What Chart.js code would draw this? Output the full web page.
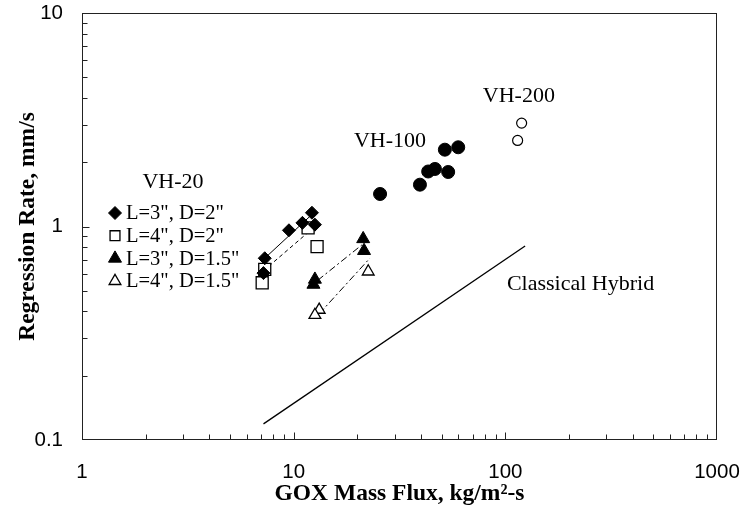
<!DOCTYPE html>
<html>
<head>
<meta charset="utf-8">
<script src="https://cdn.jsdelivr.net/npm/chart.js@4.4.1/dist/chart.umd.min.js"></script>
<style>
  html, body { margin: 0; padding: 0; background: #fff; }
  canvas { display: block; }
</style>
</head>
<body>
<canvas id="c" width="741" height="522"></canvas>
<script>
// ---- VH-20 motor tests ----
// L=3", D=2"
const fluxL3D2 = [7.3, 7.2, 9.5, 11.0, 12.2, 12.6];
const rateL3D2 = [0.71, 0.605, 0.96, 1.04, 1.16, 1.02];
// L=4", D=2"
const fluxL4D2 = [7.3, 7.1, 11.7, 12.9];
const rateL4D2 = [0.63, 0.545, 0.985, 0.805];
// L=3", D=1.5"
const fluxL3D15 = [21.3, 21.5, 12.6, 12.4];
const rateL3D15 = [0.875, 0.77, 0.565, 0.535];
// L=4", D=1.5"
const fluxL4D15 = [22.5, 13.2, 12.6];
const rateL4D15 = [0.615, 0.407, 0.385];

// ---- VH-100 and VH-200 motors ----
const fluxVH100 = [25.6, 39.5, 43.2, 46.5, 53.7, 51.8, 59.9];
const rateVH100 = [1.42, 1.57, 1.81, 1.86, 1.80, 2.29, 2.35];
const fluxVH200 = [119.4, 114.3];
const rateVH200 = [3.05, 2.53];

// ---- trend lines through each VH-20 configuration (end points) ----
const fitFluxL3D2 = [7.3, 12.1];
const fitRateL3D2 = [0.71, 1.13];
const fitFluxL4D2 = [7.2, 12.6];
const fitRateL4D2 = [0.62, 1.0];
const fitFluxL3D15 = [13.0, 21.0];
const fitRateL3D15 = [0.56, 0.82];
const fitFluxL4D15 = [13.2, 22.9];
const fitRateL4D15 = [0.39, 0.71];

// ---- classical hybrid regression law ----
const classicalFlux = [7.2, 124];
const classicalRate = [0.119, 0.81];

// ---- axes ----
const xTickValues = [1, 10, 100, 1000];
const yTickValues = [0.1, 1, 10];
const seriesLabels = ['L=3", D=2"', 'L=4", D=2"', 'L=3", D=1.5"', 'L=4", D=1.5"'];
const groupLabels = ['VH-20', 'VH-100', 'VH-200', 'Classical Hybrid'];

const pts = (xs, ys) => xs.map((v, i) => ({ x: v, y: ys[i] }));

// marker looks for the four VH-20 series (shared with the in-plot key)
const seriesMarkers = [
  { pointStyle: 'rectRot', radius: 6.5, fill: '#000', border: 1 },
  { pointStyle: 'rect', radius: 8.5, fill: '#fff', border: 1.3 },
  { pointStyle: 'triangle', radius: 7.5, fill: '#000', border: 1 },
  { pointStyle: 'triangle', radius: 6.8, fill: '#fff', border: 1.3 }
];
const seriesData = [
  pts(fluxL3D2, rateL3D2), pts(fluxL4D2, rateL4D2),
  pts(fluxL3D15, rateL3D15), pts(fluxL4D15, rateL4D15)
];

const markerSets = seriesData.map((d, i) => ({
  label: seriesLabels[i],
  data: d,
  showLine: false,
  pointStyle: seriesMarkers[i].pointStyle,
  pointRadius: seriesMarkers[i].radius,
  pointBackgroundColor: seriesMarkers[i].fill,
  pointBorderColor: '#000',
  pointBorderWidth: seriesMarkers[i].border,
  order: [2, 4, 1, 3][i]
}));

const lineSet = (xs, ys, dash, width) => ({
  data: pts(xs, ys),
  showLine: true,
  borderColor: '#000',
  borderWidth: width,
  borderDash: dash,
  pointRadius: 0,
  order: 10
});

const datasets = [
  lineSet(classicalFlux, classicalRate, [], 1.3),
  lineSet(fitFluxL3D2, fitRateL3D2, [], 1),
  lineSet(fitFluxL4D2, fitRateL4D2, [4, 3], 1),
  lineSet(fitFluxL3D15, fitRateL3D15, [7, 3, 2, 3], 1),
  lineSet(fitFluxL4D15, fitRateL4D15, [7, 3, 2, 3], 1),
  ...markerSets,
  {
    label: 'VH-100', data: pts(fluxVH100, rateVH100), showLine: false,
    pointStyle: 'circle', pointRadius: 6.5, pointBackgroundColor: '#000',
    pointBorderColor: '#000', pointBorderWidth: 1, order: 5
  },
  {
    label: 'VH-200', data: pts(fluxVH200, rateVH200), showLine: false,
    pointStyle: 'circle', pointRadius: 5, pointBackgroundColor: '#fff',
    pointBorderColor: '#000', pointBorderWidth: 1.2, order: 5
  }
];

// plot frame plus inward log tick marks on the bottom and left edges
const frameAndTicks = {
  id: 'frameAndTicks',
  beforeDatasetsDraw(chart) {
    const { ctx, chartArea: a, scales: { x, y } } = chart;
    ctx.save();
    ctx.strokeStyle = '#222';
    ctx.lineWidth = 1;
    const L = Math.round(a.left) + 0.5, T = Math.round(a.top) + 0.5;
    const R = Math.round(a.right) - 0.5, B = Math.round(a.bottom) - 0.5;
    ctx.strokeRect(L, T, R - L, B - T);
    ctx.beginPath();
    for (let d = 0; d < 3; d++) {
      for (let m = 1; m <= 9; m++) {
        if (d === 0 && m === 1) continue;
        const px = Math.round(x.getPixelForValue(m * Math.pow(10, d))) + 0.5;
        const len = m === 1 ? 7 : 5;
        ctx.moveTo(px, B); ctx.lineTo(px, B - len);
      }
    }
    for (let d = -1; d < 1; d++) {
      for (let m = 1; m <= 9; m++) {
        if (d === -1 && m === 1) continue;
        const py = Math.round(y.getPixelForValue(m * Math.pow(10, d))) + 0.5;
        const len = m === 1 ? 7 : 5;
        ctx.moveTo(L, py); ctx.lineTo(L + len, py);
      }
    }
    ctx.stroke();
    ctx.restore();
  }
};

// motor labels and the VH-20 key drawn inside the plot
const textAnchors = [
  { flux: 2.69, rate: 1.62, align: 'center' },
  { flux: 28.5, rate: 2.50, align: 'center' },
  { flux: 115.9, rate: 4.06, align: 'center' },
  { flux: 101.7, rate: 0.539, align: 'left' }
];
const plotText = {
  id: 'plotText',
  afterDatasetsDraw(chart) {
    const { ctx, chartArea: a, scales: { x, y } } = chart;
    ctx.save();
    ctx.fillStyle = '#000';
    ctx.textBaseline = 'middle';
    ctx.font = '22px "Liberation Serif"';
    groupLabels.forEach((t, i) => {
      const p = textAnchors[i];
      ctx.textAlign = p.align;
      ctx.fillText(t, x.getPixelForValue(p.flux), y.getPixelForValue(p.rate));
    });
    // key rows
    ctx.font = '20.5px "Liberation Serif"';
    ctx.textAlign = 'left';
    const keyX = a.left + 33, keyY = a.top + 200, step = 22.7;
    seriesLabels.forEach((t, i) => {
      const m = seriesMarkers[i];
      const cy = keyY + i * step;
      ctx.fillStyle = m.fill;
      ctx.strokeStyle = '#000';
      ctx.lineWidth = m.border;
      Chart.helpers.drawPoint(ctx, {
        pointStyle: m.pointStyle,
        radius: m.pointStyle === 'rect' ? 7 : m.radius,
        rotation: 0,
        borderWidth: m.border
      }, keyX, cy);
      ctx.fillStyle = '#000';
      ctx.fillText(t, keyX + 11, cy + 1);
    });
    ctx.restore();
  }
};

const tickFont = { family: '"Liberation Sans"', size: 20.5 };
const titleFont = { family: '"Liberation Serif"', size: 23.5, weight: 'bold' };

new Chart(document.getElementById('c'), {
  type: 'scatter',
  data: { datasets },
  options: {
    responsive: false,
    devicePixelRatio: 1,
    animation: false,
    layout: { padding: { top: 13, right: 24, left: 0, bottom: 0 } },
    plugins: { legend: { display: false }, tooltip: { enabled: false } },
    scales: {
      x: {
        type: 'logarithmic', min: 1, max: 1000,
        grid: { display: false, drawTicks: false },
        border: { display: false },
        afterBuildTicks: s => { s.ticks = xTickValues.map(v => ({ value: v })); },
        afterFit: s => { s.height = 82; s.paddingLeft = 0; s.paddingRight = 0; },
        ticks: { font: tickFont, color: '#000', padding: 20, maxRotation: 0, autoSkip: false, callback: v => String(v) },
        title: { display: true, text: 'GOX Mass Flux, kg/m²-s', font: titleFont, color: '#000', padding: { top: 0, bottom: 14 } }
      },
      y: {
        type: 'logarithmic', min: 0.1, max: 10,
        grid: { display: false, drawTicks: false },
        border: { display: false },
        afterBuildTicks: s => { s.ticks = yTickValues.map(v => ({ value: v })); },
        afterFit: s => { s.width = 82; s.paddingTop = 0; s.paddingBottom = 0; },
        ticks: { font: tickFont, color: '#000', padding: 19, autoSkip: false, callback: v => String(v) },
        title: { display: true, text: 'Regression Rate, mm/s', font: titleFont, color: '#000', padding: { top: 14, bottom: 0 } }
      }
    }
  },
  plugins: [frameAndTicks, plotText]
});
</script>
</body>
</html>
